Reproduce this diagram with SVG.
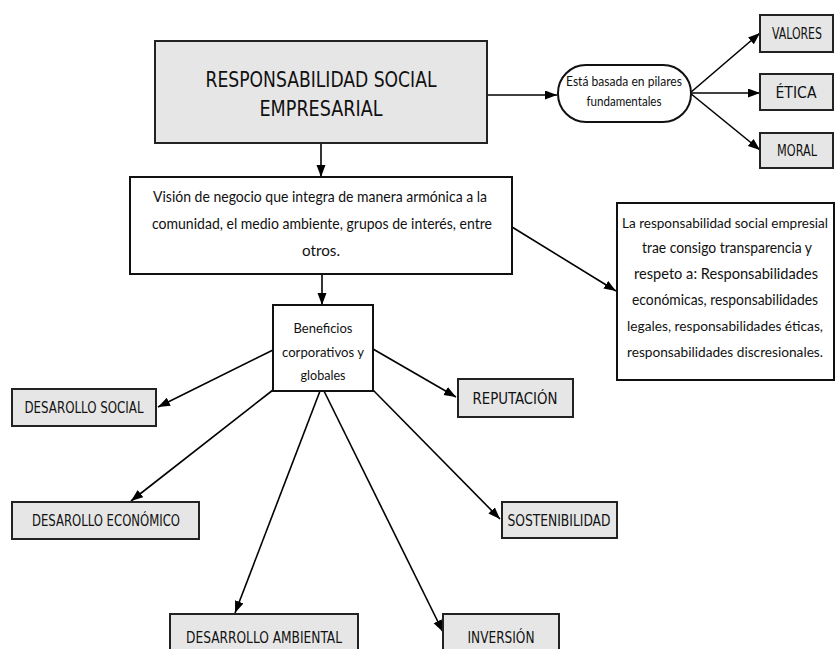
<svg xmlns="http://www.w3.org/2000/svg" width="838" height="649" viewBox="0 0 838 649">
<defs>
<marker id="ah" markerWidth="13" markerHeight="10" refX="12" refY="4.5" orient="auto" markerUnits="userSpaceOnUse">
<path d="M0,0 L12,4.5 L0,9 z" fill="#000"/>
</marker>
<style>
.g{fill:#e6e6e6;stroke:#222;stroke-width:2}
.w{fill:#fff;stroke:#111;stroke-width:2}
.u{font-family:"DejaVu Sans Condensed","DejaVu Sans",sans-serif;font-size:15px;fill:#111;text-anchor:middle}
.t{font-family:"DejaVu Sans Condensed","DejaVu Sans",sans-serif;font-size:22px;fill:#111;text-anchor:middle}
.l{font-family:Lato,"Open Sans",sans-serif;font-size:15px;fill:#111;text-anchor:middle}
.r{font-family:Lato,"Open Sans",sans-serif;font-size:13.5px;fill:#111;text-anchor:middle}
.s{font-family:Lato,"Open Sans",sans-serif;font-size:14px;fill:#111;text-anchor:middle}
.c line{stroke:#000;stroke-width:1.6;marker-end:url(#ah)}
</style>
</defs>
<rect width="838" height="649" fill="#fff"/>
<g class="c" id="connectors">
<line x1="487" y1="95" x2="557" y2="95"/>
<line x1="690" y1="93" x2="760" y2="33"/>
<line x1="690" y1="93" x2="760" y2="93"/>
<line x1="690" y1="93" x2="760" y2="150"/>
<line x1="321" y1="143" x2="321" y2="177"/>
<line x1="512" y1="227" x2="616" y2="291"/>
<line x1="322" y1="274" x2="322" y2="305"/>
<line x1="273" y1="350" x2="158" y2="407"/>
<line x1="373" y1="349" x2="456" y2="397"/>
<line x1="273" y1="390" x2="131" y2="501"/>
<line x1="373" y1="390" x2="500" y2="519"/>
<line x1="320" y1="391" x2="235" y2="613"/>
<line x1="324" y1="391" x2="443" y2="632"/>
</g>
<g id="rse">
<rect class="g" x="155" y="41" width="332" height="102"/>
<text class="t" x="321" y="87" textLength="231" lengthAdjust="spacingAndGlyphs">RESPONSABILIDAD SOCIAL</text>
<text class="t" x="321" y="116" textLength="123" lengthAdjust="spacingAndGlyphs">EMPRESARIAL</text>
</g>
<g id="pilares">
<rect class="w" x="558" y="65" width="133" height="57" rx="28" ry="28"/>
<text class="s" x="624" y="86" textLength="116" lengthAdjust="spacingAndGlyphs">Está basada en pilares</text>
<text class="s" x="624" y="106" textLength="75" lengthAdjust="spacingAndGlyphs">fundamentales</text>
</g>
<g id="valores">
<rect class="g" x="760" y="15" width="73" height="37"/>
<text class="u" x="797" y="39" textLength="50" lengthAdjust="spacingAndGlyphs">VALORES</text>
</g>
<g id="etica">
<rect class="g" x="760" y="74" width="73" height="36"/>
<text class="u" x="796" y="98" textLength="41" lengthAdjust="spacingAndGlyphs">ÉTICA</text>
</g>
<g id="moral">
<rect class="g" x="760" y="133" width="73" height="35"/>
<text class="u" x="797" y="156" textLength="40" lengthAdjust="spacingAndGlyphs">MORAL</text>
</g>
<g id="vision">
<rect class="w" x="130" y="177" width="382" height="97"/>
<text class="l" x="320" y="202" textLength="334" lengthAdjust="spacingAndGlyphs">Visión de negocio que integra de manera armónica a la</text>
<text class="l" x="322" y="229" textLength="340" lengthAdjust="spacingAndGlyphs">comunidad, el medio ambiente, grupos de interés, entre</text>
<text class="l" x="321" y="256" textLength="38" lengthAdjust="spacingAndGlyphs">otros.</text>
</g>
<g id="transparencia">
<rect class="w" x="617" y="203" width="217" height="177"/>
<text class="r" x="725" y="228" textLength="206" lengthAdjust="spacingAndGlyphs">La responsabilidad social empresial</text>
<text class="l" x="727" y="253" textLength="170" lengthAdjust="spacingAndGlyphs">trae consigo transparencia y</text>
<text class="l" x="726" y="279" textLength="184" lengthAdjust="spacingAndGlyphs">respeto a: Responsabilidades</text>
<text class="l" x="725" y="305" textLength="186" lengthAdjust="spacingAndGlyphs">económicas, responsabilidades</text>
<text class="r" x="725" y="331" textLength="196" lengthAdjust="spacingAndGlyphs">legales, responsabilidades éticas,</text>
<text class="r" x="725" y="357" textLength="196" lengthAdjust="spacingAndGlyphs">responsabilidades discresionales.</text>
</g>
<g id="beneficios">
<rect class="w" x="273" y="305" width="100" height="86"/>
<text class="s" x="323" y="333" textLength="59" lengthAdjust="spacingAndGlyphs">Beneficios</text>
<text class="s" x="323" y="357" textLength="82" lengthAdjust="spacingAndGlyphs">corporativos y</text>
<text class="s" x="323" y="380" textLength="45" lengthAdjust="spacingAndGlyphs">globales</text>
</g>
<g id="des-social">
<rect class="g" x="12" y="389" width="144" height="37"/>
<text class="u" x="84" y="413" textLength="119" lengthAdjust="spacingAndGlyphs">DESAROLLO SOCIAL</text>
</g>
<g id="reputacion">
<rect class="g" x="458" y="379" width="115" height="38"/>
<text class="u" x="515" y="404" textLength="85" lengthAdjust="spacingAndGlyphs">REPUTACIÓN</text>
</g>
<g id="des-economico">
<rect class="g" x="12" y="502" width="187" height="37"/>
<text class="u" x="106" y="526" textLength="148" lengthAdjust="spacingAndGlyphs">DESAROLLO ECONÓMICO</text>
</g>
<g id="sostenibilidad">
<rect class="g" x="502" y="502" width="115" height="36"/>
<text class="u" x="559" y="526" textLength="103" lengthAdjust="spacingAndGlyphs">SOSTENIBILIDAD</text>
</g>
<g id="des-ambiental">
<rect class="g" x="170" y="614" width="188" height="38"/>
<text class="u" x="264" y="643" textLength="156" lengthAdjust="spacingAndGlyphs">DESARROLLO AMBIENTAL</text>
</g>
<g id="inversion">
<rect class="g" x="443" y="614" width="116" height="38"/>
<text class="u" x="501" y="643" textLength="67" lengthAdjust="spacingAndGlyphs">INVERSIÓN</text>
</g>
</svg>
